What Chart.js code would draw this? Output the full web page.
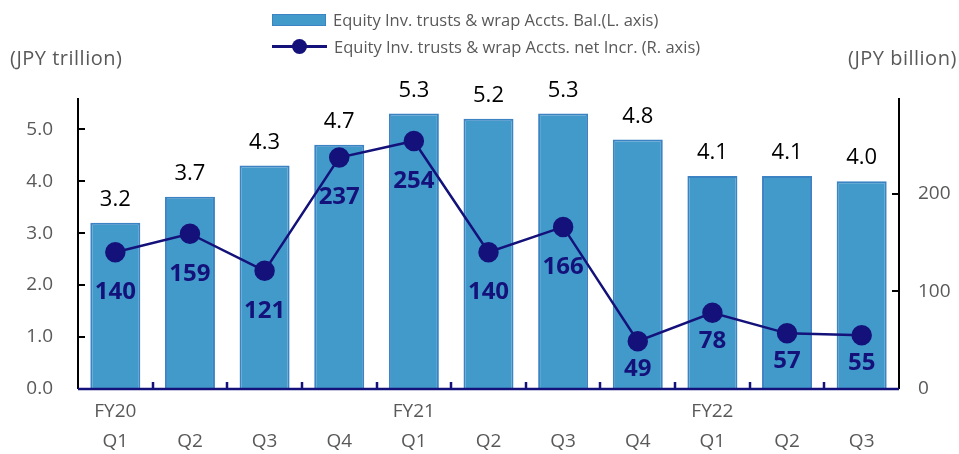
<!DOCTYPE html>
<html>
<head>
<meta charset="utf-8">
<script src="https://cdn.jsdelivr.net/npm/chart.js@4.4.0/dist/chart.umd.min.js"></script>
<style>
  body { margin: 0; background: #fff; font-family: "Open Sans", sans-serif; }
  #wrap { position: relative; width: 959px; height: 454px; }
  #legend { position: absolute; left: 272px; top: 6px; font-size: 16.5px; color: #595959; white-space: nowrap; }
  .row { height: 27px; display: flex; align-items: center; }
  .box { width: 52px; height: 10px; background: #429ACB; border: 1.5px solid #3C83C4; margin-right: 7px; }
  .ln { position: relative; width: 55px; height: 3px; background: #14127A; margin-right: 7px; }
  .ln span { position: absolute; left: 20px; top: -6px; width: 15px; height: 15px; border-radius: 50%; background: #14127A; }
  .unit { position: absolute; top: 44px; font-size: 20px; letter-spacing: 0.5px; color: #595959; white-space: nowrap; }
</style>
</head>
<body>
<div id="wrap">
  <canvas id="myChart" width="959" height="454"></canvas>
  <div id="legend">
    <div class="row"><div class="box"></div>Equity Inv. trusts &amp; wrap Accts. Bal.(L. axis)</div>
    <div class="row"><div class="ln"><span></span></div>Equity Inv. trusts &amp; wrap Accts. net Incr. (R. axis)</div>
  </div>
  <div class="unit" style="left:10px">(JPY trillion)</div>
  <div class="unit" style="left:848px">(JPY billion)</div>
</div>
<script>
// datos
const periodos = [['FY20', 'Q1'], ['', 'Q2'], ['', 'Q3'], ['', 'Q4'], ['FY21', 'Q1'], ['', 'Q2'], ['', 'Q3'], ['', 'Q4'], ['FY22', 'Q1'], ['', 'Q2'], ['', 'Q3']];
const saldos = [3.2, 3.7, 4.3, 4.7, 5.3, 5.2, 5.3, 4.8, 4.1, 4.1, 4.0];
const incrementos = [140, 159, 121, 237, 254, 140, 166, 49, 78, 57, 55];
const ticksIzq = [0, 1, 2, 3, 4, 5];
const ticksDer = [0, 100, 200];

const AZUL_OSCURO = '#14127A';
const FUENTE = '"Open Sans", sans-serif';

// etiquetas y ejes dibujados a mano
const pluginEtiquetas = {
    id: 'etiquetas',
    afterDatasetsDraw(chart) {
        const ctx = chart.ctx;
        const area = chart.chartArea;
        const y = chart.scales.y;
        const y1 = chart.scales.y1;
        ctx.save();

        // ejes
        ctx.strokeStyle = '#000';
        ctx.lineWidth = 2;
        ctx.beginPath();
        ctx.moveTo(area.left, area.top); ctx.lineTo(area.left, area.bottom);
        ctx.moveTo(area.right, area.top); ctx.lineTo(area.right, area.bottom);
        ticksIzq.forEach(v => {
            const py = Math.round(y.getPixelForValue(v));
            if (v > 0) { ctx.moveTo(area.left, py); ctx.lineTo(area.left + 7, py); }
        });
        ticksDer.forEach(v => {
            const py = Math.round(y1.getPixelForValue(v));
            if (v > 0) { ctx.moveTo(area.right, py); ctx.lineTo(area.right - 7, py); }
        });
        ctx.stroke();

        ctx.strokeStyle = AZUL_OSCURO;
        ctx.lineWidth = 2.5;
        ctx.beginPath();
        ctx.moveTo(area.left, area.bottom); ctx.lineTo(area.right, area.bottom);
        const paso = (area.right - area.left) / periodos.length;
        for (let i = 1; i < periodos.length; i++) {
            const px = Math.round(area.left + paso * i);
            ctx.moveTo(px, area.bottom); ctx.lineTo(px, area.bottom - 7);
        }
        ctx.stroke();

        // etiquetas de barras (dataset 1)
        ctx.textAlign = 'center';
        ctx.textBaseline = 'bottom';
        ctx.fillStyle = '#000';
        ctx.font = '22px ' + FUENTE;
        chart.getDatasetMeta(1).data.forEach((bar, i) => {
            ctx.fillText(saldos[i].toFixed(1), bar.x, bar.y - 12);
        });

        // etiquetas de linea (dataset 0)
        ctx.textBaseline = 'middle';
        ctx.fillStyle = AZUL_OSCURO;
        ctx.font = 'bold 24px ' + FUENTE;
        chart.getDatasetMeta(0).data.forEach((pt, i) => {
            const desplaz = incrementos[i] < 100 ? 28 : 40;
            ctx.fillText(String(incrementos[i]), pt.x, pt.y + desplaz);
        });
        ctx.restore();
    }
};

const ctx = document.getElementById('myChart').getContext('2d');
const myChart = new Chart(ctx, {
    type: 'bar',
    data: {
        labels: periodos,
        datasets: [{
            type: 'line',
            label: 'Equity Inv. trusts & wrap Accts. net Incr. (R. axis)',
            data: incrementos,
            yAxisID: 'y1',
            borderColor: AZUL_OSCURO,
            backgroundColor: AZUL_OSCURO,
            borderWidth: 2.5,
            pointRadius: 9,
            pointHoverRadius: 9,
            tension: 0,
            order: 0
        }, {
            type: 'bar',
            label: 'Equity Inv. trusts & wrap Accts. Bal.(L. axis)',
            data: saldos,
            yAxisID: 'y',
            backgroundColor: '#429ACB',
            borderColor: '#3C83C4',
            borderWidth: 2,
            categoryPercentage: 0.67,
            barPercentage: 1,
            order: 1
        }]
    },
    plugins: [pluginEtiquetas],
    options: {
        responsive: false,
        animation: false,
        layout: { padding: { top: 98, left: 0, right: 0, bottom: 0 } },
        plugins: {
            legend: { display: false },
            tooltip: { enabled: false }
        },
        scales: {
            x: {
                offset: true,
                grid: { display: false, drawTicks: false },
                border: { display: false },
                ticks: {
                    color: '#595959',
                    font: { family: FUENTE, size: 19, lineHeight: 1.6 },
                    padding: 7,
                    maxRotation: 0,
                    autoSkip: false
                },
                afterFit: (s) => { s.height = 65; }
            },
            y: {
                position: 'left',
                min: 0,
                max: 5.6,
                afterBuildTicks: (s) => { s.ticks = ticksIzq.map(v => ({ value: v })); },
                grid: { display: false, drawTicks: false },
                border: { display: false },
                ticks: {
                    color: '#595959',
                    font: { family: FUENTE, size: 19 },
                    padding: 25,
                    callback: (v) => Number(v).toFixed(1)
                },
                afterFit: (s) => { s.width = 78; }
            },
            y1: {
                position: 'right',
                min: 0,
                max: 298,
                afterBuildTicks: (s) => { s.ticks = ticksDer.map(v => ({ value: v })); },
                grid: { display: false, drawTicks: false },
                border: { display: false },
                ticks: {
                    color: '#595959',
                    font: { family: FUENTE, size: 19 },
                    padding: 19
                },
                afterFit: (s) => { s.width = 60; }
            }
        }
    }
});
</script>
</body>
</html>
